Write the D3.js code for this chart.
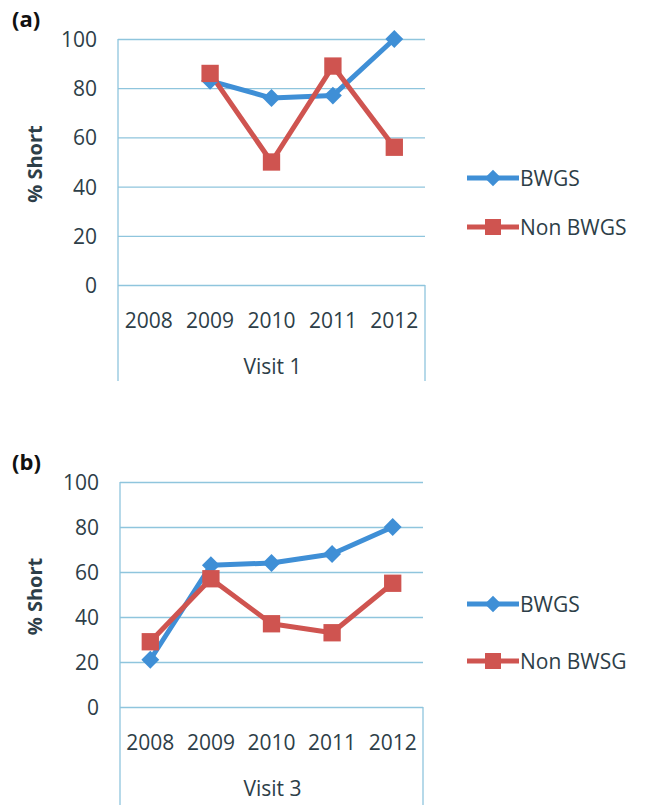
<!DOCTYPE html>
<html>
<head>
<meta charset="utf-8">
<script src="https://cdnjs.cloudflare.com/ajax/libs/d3/7.8.5/d3.min.js"></script>
<style>
  body { margin: 0; background: #fff; }
  svg text { font-family: "Open Sans", "Liberation Sans", sans-serif; fill: #2d3e48; }
</style>
</head>
<body>
<div id="canvas"></div>
<script>
// data
var years = ['2008', '2009', '2010', '2011', '2012'];
var yTicks = [0, 20, 40, 60, 80, 100];
var bwgsVisit1 = [null, 83, 76, 77, 100];
var nonBwgsVisit1 = [null, 86, 50, 89, 56];
var bwgsVisit3 = [21, 63, 64, 68, 80];
var nonBwgsVisit3 = [29, 57, 37, 33, 55];

var blue = '#3f8fd6';
var red = '#cf5450';
var grid = '#8fc5dd';

var svg = d3.select('#canvas').append('svg')
  .attr('width', 650)
  .attr('height', 805);

// excel style diamond = square turned 45 deg
var diamond = {
  draw: function(ctx, size) {
    var r = Math.sqrt(size) / Math.SQRT2;
    ctx.moveTo(0, -r); ctx.lineTo(r, 0); ctx.lineTo(0, r); ctx.lineTo(-r, 0); ctx.closePath();
  }
};

// one panel: plot box, category block under it, legend on the right
var drawPanel = function(p) {
  var g = svg.append('g');
  var x = d3.scaleBand().domain(years).range([p.left, p.right]);
  var y = d3.scaleLinear().domain([0, 100]).range([p.bottom, p.top]);

  // gridlines + tick labels
  var yAxis = g.append('g')
    .attr('transform', 'translate(' + p.left + ',0)')
    .call(d3.axisLeft(y).tickValues(yTicks).tickSize(-(p.right - p.left)).tickPadding(21));
  yAxis.select('.domain').remove();
  yAxis.selectAll('line').attr('stroke', grid).attr('stroke-width', 1.3);
  yAxis.selectAll('text').attr('font-size', 21).attr('fill', '#2d3e48').attr('dy', '0.36em');

  // left side of plot box and the category block borders
  g.append('line').attr('x1', p.left).attr('x2', p.left).attr('y1', p.top).attr('y2', p.blockBottom)
    .attr('stroke', grid).attr('stroke-width', 1.3);
  g.append('line').attr('x1', p.right).attr('x2', p.right).attr('y1', p.bottom).attr('y2', p.blockBottom)
    .attr('stroke', grid).attr('stroke-width', 1.3);

  // year labels
  g.selectAll('.yr').data(years).enter().append('text')
    .attr('x', function(d) { return x(d) + x.bandwidth() / 2; })
    .attr('y', p.bottom + 43)
    .attr('text-anchor', 'middle')
    .attr('font-size', 21)
    .text(function(d) { return d; });

  g.append('text')
    .attr('x', (p.left + p.right) / 2 + 1)
    .attr('y', p.bottom + 89)
    .attr('text-anchor', 'middle')
    .attr('font-size', 21)
    .text(p.visit);

  g.append('text')
    .attr('transform', 'translate(' + 42 + ',' + ((p.top + p.bottom) / 2 + 2) + ') rotate(-90)')
    .attr('text-anchor', 'middle')
    .attr('font-size', 20)
    .attr('font-weight', 'bold')
    .text('% Short');

  g.append('text')
    .attr('x', 12)
    .attr('y', p.top - 12)
    .attr('font-size', 22)
    .attr('font-weight', 'bold')
    .style('fill', '#111')
    .text(p.label);

  var cx = function(d, i) { return x(years[i]) + x.bandwidth() / 2; };
  var line = d3.line()
    .defined(function(d) { return d != null; })
    .x(cx)
    .y(function(d) { return y(d); });

  var series = [
    { vals: p.bwgs, color: blue, shape: diamond, size: 160 },
    { vals: p.non, color: red, shape: d3.symbolSquare, size: 300 }
  ];

  series.forEach(function(s) {
    g.append('path').datum(s.vals)
      .attr('d', line)
      .attr('fill', 'none')
      .attr('stroke', s.color)
      .attr('stroke-width', 5)
      .attr('stroke-linejoin', 'round');
  });
  series.forEach(function(s) {
    var sym = d3.symbol().type(s.shape).size(s.size);
    s.vals.forEach(function(d, i) {
      if (d == null) return;
      g.append('path')
        .attr('d', sym)
        .attr('transform', 'translate(' + cx(d, i) + ',' + y(d) + ')')
        .attr('fill', s.color);
    });
  });

  // legend
  series.forEach(function(s, i) {
    var ly = p.legendY[i];
    g.append('line').attr('x1', 467).attr('x2', 519).attr('y1', ly).attr('y2', ly)
      .attr('stroke', s.color).attr('stroke-width', 5);
    g.append('path').attr('d', d3.symbol().type(s.shape).size(s.size * 0.85))
      .attr('transform', 'translate(493,' + ly + ')').attr('fill', s.color);
    g.append('text').attr('x', 520).attr('y', ly + 8)
      .attr('font-size', 21).text(p.names[i]);
  });
};

drawPanel({ label: '(a)', visit: 'Visit 1', left: 118, right: 425, top: 39, bottom: 285, blockBottom: 381,
  bwgs: bwgsVisit1, non: nonBwgsVisit1, legendY: [178, 227], names: ['BWGS', 'Non BWGS'] });
drawPanel({ label: '(b)', visit: 'Visit 3', left: 120, right: 423, top: 482, bottom: 707, blockBottom: 805,
  bwgs: bwgsVisit3, non: nonBwgsVisit3, legendY: [604, 661], names: ['BWGS', 'Non BWSG'] });
</script>
</body>
</html>
